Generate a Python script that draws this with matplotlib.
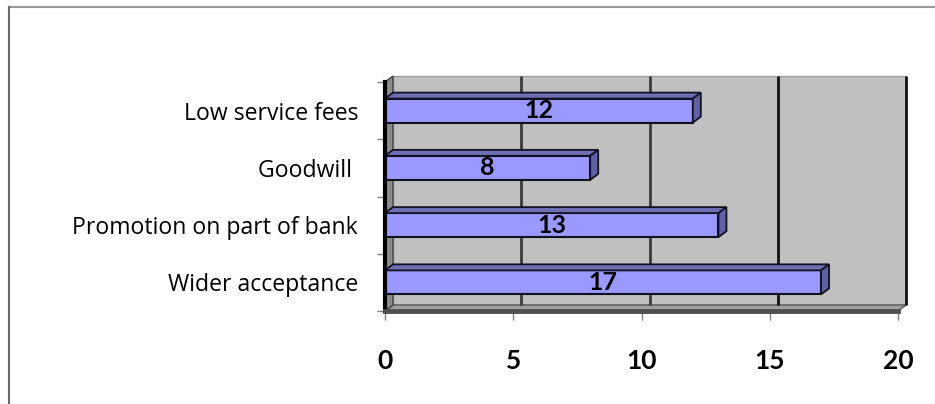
import matplotlib.pyplot as plt
from matplotlib.patches import Polygon, Rectangle
from matplotlib.lines import Line2D

categories = ['Wider acceptance', 'Promotion on part of bank', 'Goodwill ', 'Low service fees']
values = [17, 13, 8, 12]
xticks = [0, 5, 10, 15, 20]

plt.rcParams['font.family'] = ['Lato', 'DejaVu Sans']

W, H = 935, 404
fig = plt.figure(figsize=(W / 100, H / 100), dpi=100)
# front plane of the 3-D box
ax = fig.add_axes([385 / W, 1 - 311 / H, 513 / W, 229 / H])
ax.set_xlim(0, 20)
ax.set_ylim(-0.5, len(categories) - 0.5)
ax.patch.set_visible(False)

# depth of the box (8 px right, 6 px up) in data units
inv = ax.transData.inverted()
o = ax.transData.transform((0, 0))
d = inv.transform((o[0] + 8, o[1] + 6))
dx, dy = d[0], d[1]

y0, y1 = -0.5, len(categories) - 0.5
x1 = xticks[-1]

# back wall
ax.add_patch(Rectangle((dx, y0 + dy), x1, y1 - y0, facecolor='#c0c0c0',
                       edgecolor='#a0a0a0', lw=1, zorder=0, clip_on=False))
# floor
ax.add_patch(Polygon([(0, y0), (x1, y0), (x1 + dx, y0 + dy), (dx, y0 + dy)],
                     closed=True, facecolor='#a0a0a0', edgecolor='#555555',
                     lw=1, zorder=1, clip_on=False))
# side wall
ax.add_patch(Polygon([(0, y0), (dx, y0 + dy), (dx, y1 + dy), (0, y1)],
                     closed=True, facecolor='#8c8c8c', edgecolor='#444444',
                     lw=1, zorder=1, clip_on=False))
# gridlines on back wall
for t in xticks[1:]:
    ax.plot([t + dx, t + dx], [y0 + dy, y1 + dy], color='#111111' if t > 10 else '#3a3a3a',
            lw=2, zorder=1, clip_on=False, solid_capstyle='butt')

# bars
h = 0.42
ypos = list(range(len(categories)))
ax.barh(ypos, values, height=h, color='#9999ff', edgecolor='#111122', lw=1.5, zorder=3)
for y, v in zip(ypos, values):
    top = [(0, y + h / 2), (v, y + h / 2), (v + dx, y + h / 2 + dy), (dx, y + h / 2 + dy)]
    side = [(v, y - h / 2), (v + dx, y - h / 2 + dy), (v + dx, y + h / 2 + dy), (v, y + h / 2)]
    ax.add_patch(Polygon(top, closed=True, facecolor='#6e6eb4', edgecolor='#111122',
                         lw=1.3, zorder=3, clip_on=False))
    ax.add_patch(Polygon(side, closed=True, facecolor='#6060a4', edgecolor='#111122',
                         lw=1.3, zorder=3, clip_on=False))
    ax.text(v / 2, y, str(v), ha='center', va='center', fontsize=18,
            fontweight='bold', zorder=4)

# axes lines
for s in ['top', 'right']:
    ax.spines[s].set_visible(False)
ax.spines['left'].set_color('black')
ax.spines['left'].set_linewidth(3)
ax.spines['left'].set_zorder(5)
ax.spines['bottom'].set_color('#505050')
ax.spines['bottom'].set_linewidth(3.5)
ax.spines['bottom'].set_zorder(5)

ax.set_yticks(ypos, categories, fontsize=16.6, family=['Open Sans', 'DejaVu Sans'])
ax.set_yticks([y - 0.5 for y in ypos] + [y1], minor=True)
ax.tick_params(axis='y', which='major', length=0, pad=19.4)
ax.tick_params(axis='y', which='minor', length=6, color='#808080', width=1)

ax.set_xticks(xticks, [str(t) for t in xticks], fontsize=19, fontweight='bold')
ax.tick_params(axis='x', length=6.5, color='#808080', width=1, pad=21)

# chart border
fig.add_artist(Line2D([9 / W, 1], [1 - 7 / H, 1 - 7 / H], transform=fig.transFigure,
                      color='#9a9a9a', lw=1.5))
fig.add_artist(Line2D([9 / W, 9 / W], [0, 1 - 7 / H], transform=fig.transFigure,
                      color='#6a6a6a', lw=1.5))

fig.savefig('out.png', dpi=100)
